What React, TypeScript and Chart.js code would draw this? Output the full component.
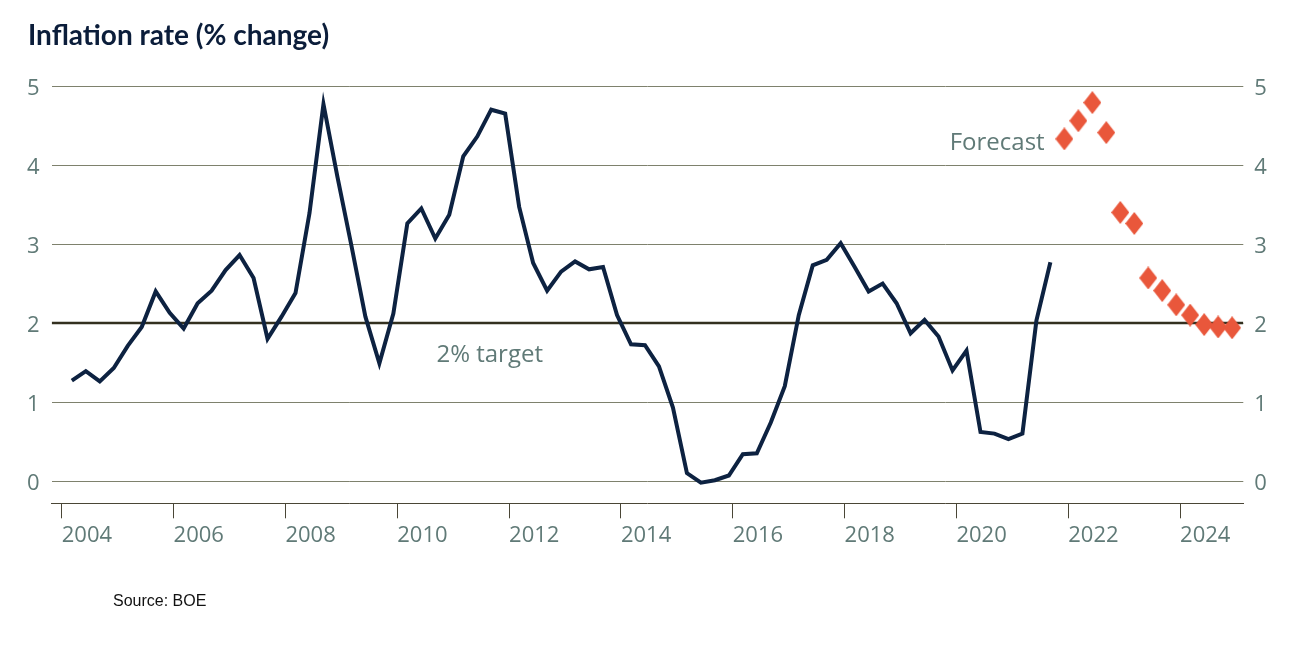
import React, { useEffect, useRef } from "react";
import { Chart, registerables } from "chart.js";

Chart.register(...registerables);

// ---- Data (quarterly CPI inflation, % change) ----
const firstYear = 2004;
const actualInflation = [
  1.27, 1.39, 1.26, 1.43, 1.71, 1.95, 2.4, 2.13, 1.93, 2.25, 2.41, 2.67, 2.86, 2.57,
  1.8, 2.08, 2.38, 3.39, 4.77, 3.85, 2.98, 2.08, 1.49, 2.12, 3.26, 3.45, 3.07, 3.37,
  4.11, 4.36, 4.7, 4.65, 3.47, 2.76, 2.41, 2.65, 2.78, 2.68, 2.71, 2.1, 1.73, 1.72,
  1.45, 0.93, 0.1, -0.02, 0.01, 0.07, 0.34, 0.35, 0.74, 1.2, 2.1, 2.73, 2.8, 3.01,
  2.71, 2.4, 2.5, 2.25, 1.87, 2.04, 1.83, 1.4, 1.65, 0.62, 0.6, 0.53, 0.6, 2.03, 2.77,
];
const forecastInflation = [4.33, 4.56, 4.79, 4.41, 3.4, 3.26, 2.57, 2.41, 2.23, 2.1, 1.98, 1.95, 1.94];
const inflationTarget = 2;
const yearTicks = [2004, 2006, 2008, 2010, 2012, 2014, 2016, 2018, 2020, 2022, 2024];
const valueTicks = [0, 1, 2, 3, 4, 5];

// quarter categories 2004 Q1 .. 2024 Q4
const quarters: string[] = [];
for (let yr = firstYear; yr <= 2024; yr++) for (let q = 1; q <= 4; q++) quarters.push(`${yr} Q${q}`);

// plotted position of a quarter on the time axis (decimal years)
const quarterToX = (label: string) => {
  const [yr, q] = label.split(" Q");
  return Number(yr) + (Number(q) - 1) / 4 + 0.18;
};

const X_MIN = 2003.82;
const X_MAX = 2025.13;
const Y_MIN = -0.282;
const Y_MAX = 5;

const NAVY = "#0d2241";
const RED = "#e9573b";
const GREY_TEXT = "#607a77";
const GRID = "#7e816d";

function makeDiamond(): HTMLCanvasElement {
  const c = document.createElement("canvas");
  c.width = 18;
  c.height = 23;
  const g = c.getContext("2d")!;
  g.fillStyle = RED;
  g.beginPath();
  g.moveTo(9, 0);
  g.lineTo(18, 11.5);
  g.lineTo(9, 23);
  g.lineTo(0, 11.5);
  g.closePath();
  g.fill();
  return c;
}

const annotationPlugin = {
  id: "textAnnotations",
  afterDatasetsDraw(chart: any) {
    const { ctx, scales } = chart;
    const x = scales.x;
    const y = scales.y;
    ctx.save();
    ctx.font = '24px "Open Sans"';
    ctx.fillStyle = GREY_TEXT;
    ctx.textAlign = "left";
    ctx.textBaseline = "alphabetic";
    ctx.fillText("Forecast", x.getPixelForValue(2019.88), y.getPixelForValue(4.19));
    ctx.fillText("2% target", x.getPixelForValue(2010.7), y.getPixelForValue(1.506));
    ctx.restore();
  },
};

export default function App() {
  const ref = useRef<HTMLCanvasElement>(null);

  useEffect(() => {
    let chart: Chart | null = null;
    let cancelled = false;
    const build = () => {
      if (cancelled || !ref.current) return;
      const actualPts = actualInflation.map((v, i) => ({ x: quarterToX(quarters[i]), y: v }));
      const fcPts = forecastInflation.map((v, i) => ({
        x: quarterToX(quarters[actualInflation.length + i]),
        y: v,
      }));
      const tickFont = { family: '"Open Sans"', size: 22 };
      chart = new Chart(ref.current, {
        type: "line",
        data: {
          datasets: [
            {
              label: "CPI inflation",
              data: actualPts,
              borderColor: NAVY,
              backgroundColor: NAVY,
              borderWidth: 4,
              pointRadius: 0,
              tension: 0,
              borderJoinStyle: "miter",
              order: 1,
            },
            {
              label: "Forecast",
              data: fcPts,
              showLine: false,
              pointStyle: makeDiamond(),
              pointRadius: 10,
              borderWidth: 0,
              backgroundColor: RED,
              borderColor: RED,
              order: 0,
            },
            {
              label: "2% target",
              data: [
                { x: X_MIN, y: inflationTarget },
                { x: X_MAX, y: inflationTarget },
              ],
              borderColor: "#33301f",
              borderWidth: 2.5,
              pointRadius: 0,
              order: 2,
            },
          ] as any,
        },
        options: {
          animation: false,
          responsive: false,
          events: [],
          layout: { padding: { top: 86, bottom: 106.7, left: 0, right: 0 } },
          plugins: { legend: { display: false }, tooltip: { enabled: false }, title: { display: false } },
          scales: {
            x: {
              type: "linear",
              min: X_MIN,
              max: X_MAX,
              afterBuildTicks: (s: any) => {
                s.ticks = yearTicks.map((v) => ({ value: v }));
              },
              afterFit: (s: any) => {
                s.height = 50;
              },
              grid: {
                display: true,
                drawOnChartArea: false,
                drawTicks: true,
                tickLength: 15,
                tickColor: "#4a4636",
                lineWidth: 1,
              },
              border: { display: true, color: "#4a4636", width: 1 },
              ticks: {
                color: GREY_TEXT,
                font: tickFont,
                padding: 4,
                align: "start",
                maxRotation: 0,
                autoSkip: false,
                callback: (v: any) => String(v),
              },
            },
            y: {
              type: "linear",
              position: "left",
              min: Y_MIN,
              max: Y_MAX,
              afterBuildTicks: (s: any) => {
                s.ticks = valueTicks.map((v) => ({ value: v }));
              },
              afterFit: (s: any) => {
                s.width = 51.7;
              },
              grid: { color: GRID, lineWidth: 1, drawTicks: false },
              border: { display: false },
              ticks: {
                color: GREY_TEXT,
                font: tickFont,
                padding: 12,
                labelOffset: 2.5,
                callback: (v: any) => String(v),
              },
            },
            y2: {
              type: "linear",
              position: "right",
              min: Y_MIN,
              max: Y_MAX,
              afterBuildTicks: (s: any) => {
                s.ticks = valueTicks.map((v) => ({ value: v }));
              },
              afterFit: (s: any) => {
                s.width = 45.7;
              },
              grid: { display: false, drawOnChartArea: false, drawTicks: false },
              border: { display: false },
              ticks: {
                color: GREY_TEXT,
                font: tickFont,
                padding: 11,
                labelOffset: 2.5,
                callback: (v: any) => String(v),
              },
            },
          },
        } as any,
        plugins: [annotationPlugin],
      });
    };
    const fontsReady = (document as any).fonts
      ? Promise.all([
          (document as any).fonts.load('22px "Open Sans"'),
          (document as any).fonts.load('bold 28px "Lato"'),
        ]).catch(() => null)
      : Promise.resolve(null);
    fontsReady.then(build);
    return () => {
      cancelled = true;
      if (chart) chart.destroy();
    };
  }, []);

  return (
    <div style={{ position: "fixed", left: 0, top: 0, width: 1289, height: 660, background: "#fff" }}>
      <canvas ref={ref} width={1289} height={660} style={{ position: "absolute", left: 0, top: 0 }} />
      <div
        style={{
          position: "absolute",
          left: 28,
          top: 20,
          fontFamily: '"Lato", sans-serif',
          fontWeight: 700,
          fontSize: 28,
          lineHeight: "28px",
          color: "#0b1d3a",
          whiteSpace: "nowrap",
        }}
      >
        Inflation rate (% change)
      </div>
      <div
        style={{
          position: "absolute",
          left: 113,
          top: 592.5,
          fontFamily: '"Liberation Sans", Arial, sans-serif',
          fontSize: 16,
          lineHeight: "16px",
          color: "#111",
          whiteSpace: "nowrap",
        }}
      >
        Source: BOE
      </div>
    </div>
  );
}
